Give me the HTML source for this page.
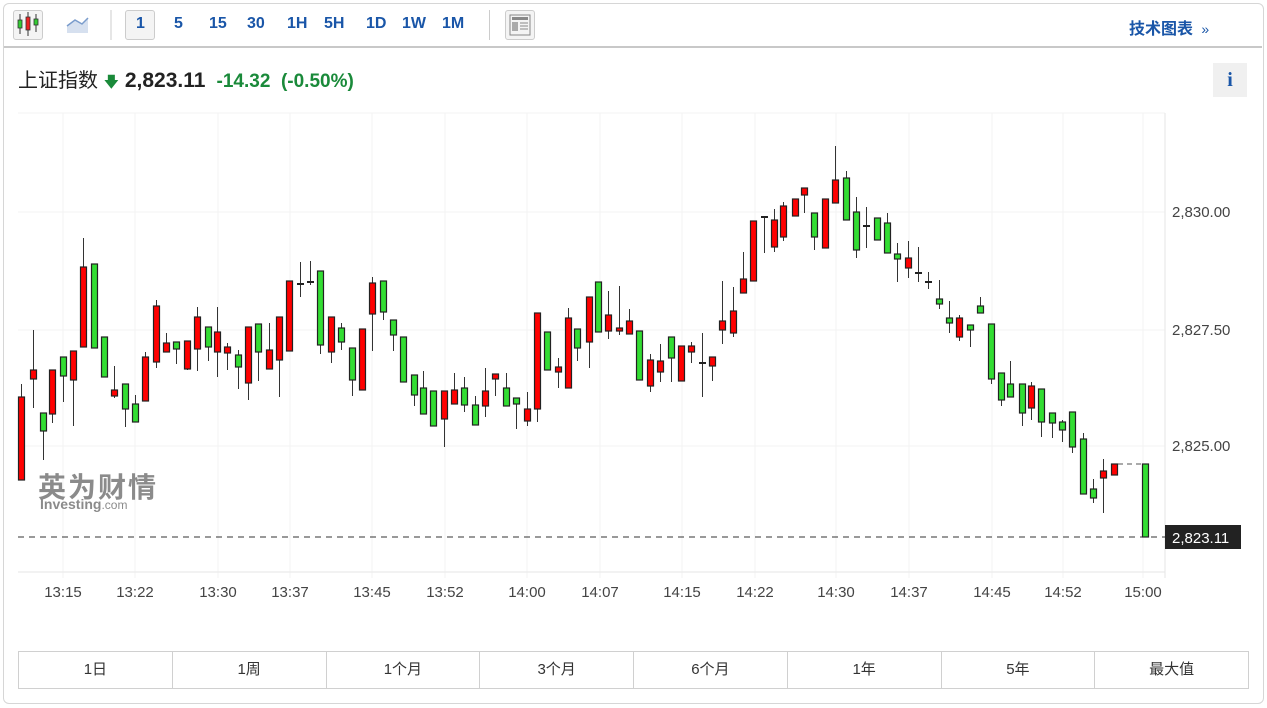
<!DOCTYPE html>
<html><head><meta charset="utf-8"><style>
body{margin:0;width:1267px;height:708px;background:#fff;font-family:"Liberation Sans","Noto Sans CJK SC",sans-serif;overflow:hidden}
.box{position:absolute;left:3px;top:3px;width:1259px;height:699px;border:1px solid #d6d6d6;border-radius:6px}
.tb{position:absolute;left:4px;top:4px;width:1258px;height:42px;border-bottom:2px solid #c8c8c8}
.t{position:absolute;top:15px;font-size:16px;font-weight:bold;color:#1a56a8}
.tabs{position:absolute;left:18px;top:651px;width:1229px;height:36px;border:1px solid #d0d0d0;display:flex}
.tabs div{flex:1;border-right:1px solid #d0d0d0;text-align:center;line-height:36px;font-size:15px;color:#333}
.tabs div:last-child{border-right:none}
</style></head><body>
<div class="box"></div>
<div class="tb"></div>
<div style="position:absolute;left:13px;top:10px;width:28px;height:28px;border:1px solid #ccc;border-radius:3px;background:#f4f4f4"></div>
<svg style="position:absolute;left:0;top:0" width="200" height="46">
<line x1="20" y1="14" x2="20" y2="34" stroke="#333"/><rect x="18" y="20" width="4" height="8" fill="#3c3" stroke="#333" stroke-width="0.8"/>
<line x1="28" y1="12" x2="28" y2="36" stroke="#333"/><rect x="26" y="17" width="4" height="13" fill="#e22" stroke="#333" stroke-width="0.8"/>
<line x1="36" y1="14" x2="36" y2="32" stroke="#333"/><rect x="34" y="19" width="4" height="6" fill="#3c3" stroke="#333" stroke-width="0.8"/>
<path d="M67 33 L67 26 L75 20 L82 24 L88 18 L88 33Z" fill="#d6e0ef"/><path d="M67 26 L75 20 L82 24 L88 18" fill="none" stroke="#7a9ccc" stroke-width="1.5"/>
<line x1="111" y1="10" x2="111" y2="40" stroke="#ccc"/>
</svg>
<div style="position:absolute;left:125px;top:10px;width:28px;height:28px;border:1px solid #ccc;border-radius:3px;background:#f4f4f4"></div>
<div class="t" style="left:136px">1</div><div class="t" style="left:174px">5</div><div class="t" style="left:209px">15</div><div class="t" style="left:247px">30</div><div class="t" style="left:287px">1H</div><div class="t" style="left:324px">5H</div><div class="t" style="left:366px">1D</div><div class="t" style="left:402px">1W</div><div class="t" style="left:442px">1M</div>
<div style="position:absolute;left:489px;top:10px;width:1px;height:30px;background:#ccc"></div>
<div style="position:absolute;left:505px;top:10px;width:28px;height:28px;border:1px solid #ccc;border-radius:3px;background:#f4f4f4"></div>
<svg style="position:absolute;left:509px;top:14px" width="22" height="22"><rect x="1" y="1" width="20" height="20" fill="none" stroke="#888"/><rect x="3" y="3" width="16" height="3" fill="#888"/><rect x="3" y="8" width="6" height="9" fill="#aaa"/><path d="M11 9h8M11 12h8M11 15h8" stroke="#888"/></svg>
<div style="position:absolute;left:1129px;top:15px;font-size:16px;font-weight:bold;color:#1a56a8">技术图表 <span style="font-weight:normal;font-size:14px">&nbsp;»</span></div>
<div style="position:absolute;left:18px;top:64px;font-size:20px;color:#222;white-space:nowrap">上证指数 <span style="color:#1a8a3a;font-size:15px">&#129095;</span><b style="color:#222;font-size:21px"> 2,823.11</b>&nbsp; <b style="color:#1a8a3a;font-size:19px">-14.32&nbsp; (-0.50%)</b></div>
<div style="position:absolute;left:1213px;top:63px;width:34px;height:34px;background:#f0f0f0;color:#1a56a8;font-weight:bold;font-size:20px;text-align:center;line-height:34px;font-family:'Liberation Serif',serif">i</div>
<svg id="ch" style="position:absolute;left:0;top:0" width="1267" height="708"></svg>
<div style="position:absolute;left:38px;top:466px;font-size:28px;font-weight:bold;color:#777;opacity:.85;letter-spacing:2px">英为财情</div>
<div style="position:absolute;left:40px;top:496px;font-size:14px;font-weight:bold;color:#777;opacity:.85">Investing<span style="font-weight:normal;font-size:12px">.com</span></div>
<div class="tabs"><div>1日</div><div>1周</div><div>1个月</div><div>3个月</div><div>6个月</div><div>1年</div><div>5年</div><div>最大值</div></div>
<script>
var s='';
var vx=[63,135,218,290,372,445,527,600,682,755,836,909,992,1063,1143],lb=['13:15','13:22','13:30','13:37','13:45','13:52','14:00','14:07','14:15','14:22','14:30','14:37','14:45','14:52','15:00'];
vx.forEach(function(x,i){s+='<line x1="'+x+'" y1="113" x2="'+x+'" y2="578" stroke="#f3f3f3"/>';s+='<text x="'+x+'" y="597" font-size="15" fill="#444" text-anchor="middle" font-family="Liberation Sans">'+lb[i]+'</text>';});
[113,212,330,446].forEach(function(y){s+='<line x1="18" y1="'+y+'" x2="1165" y2="'+y+'" stroke="#f3f3f3"/>';});
s+='<line x1="18" y1="572" x2="1165" y2="572" stroke="#e6e6e6"/><line x1="1165" y1="113" x2="1165" y2="578" stroke="#e6e6e6"/>';
[['2,830.00',212],['2,827.50',330],['2,825.00',446]].forEach(function(a){s+='<text x="1172" y="'+(a[1]+5)+'" font-size="15" fill="#444" font-family="Liberation Sans">'+a[0]+'</text>';});
s+='<line x1="18" y1="537" x2="1165" y2="537" stroke="#333" stroke-dasharray="6,5"/>';
s+='<line x1="1118" y1="464" x2="1142" y2="464" stroke="#555" stroke-dasharray="5,4"/>';
s+='<rect x="1165" y="525" width="76" height="24" fill="#222"/><text x="1172" y="543" font-size="15" fill="#fff" font-family="Liberation Sans">2,823.11</text>';
var d=[[21,384,397,480,480,'r'],[33,330,370,379,408,'r'],[43,413,413,431,460,'g'],[52,370,370,414,423,'r'],[63,357,357,376,402,'g'],[73,351,351,380,426,'r'],[83,238,267,347,347,'r'],[94,264,264,348,348,'g'],[104,337,337,377,377,'g'],[114,366,390,396,398,'r'],[125,384,384,409,427,'g'],[135,395,404,422,422,'g'],[145,352,357,401,401,'r'],[156,300,306,362,368,'r'],[166,333,343,352,352,'r'],[176,342,342,349,364,'g'],[187,341,341,369,370,'r'],[197,307,317,349,371,'r'],[208,327,327,347,361,'g'],[217,307,332,352,377,'r'],[227,343,347,353,370,'r'],[238,350,355,367,389,'g'],[248,327,327,383,400,'r'],[258,324,324,352,381,'g'],[269,323,350,369,369,'r'],[279,317,317,360,397,'r'],[289,281,281,351,351,'r'],[300,262,283,285,297,'d'],[310,261,281,283,285,'d'],[320,271,271,345,354,'g'],[331,317,317,352,363,'r'],[341,323,328,342,350,'g'],[352,348,348,380,396,'g'],[362,329,329,390,390,'r'],[372,277,283,314,351,'r'],[383,281,281,312,320,'g'],[393,320,320,335,351,'g'],[403,337,337,382,382,'g'],[414,375,375,395,406,'g'],[423,371,388,414,414,'g'],[433,391,391,426,426,'g'],[444,391,391,419,447,'r'],[454,373,390,404,404,'r'],[464,377,388,405,412,'g'],[475,396,405,425,425,'g'],[485,368,391,406,417,'r'],[495,374,374,379,396,'r'],[506,373,388,406,406,'g'],[516,398,398,404,429,'g'],[527,392,409,421,426,'r'],[537,313,313,409,422,'r'],[547,332,332,370,370,'g'],[558,358,367,372,388,'r'],[568,308,318,388,388,'r'],[577,329,329,348,361,'g'],[589,297,297,342,368,'r'],[598,282,282,332,332,'g'],[608,291,315,331,339,'r'],[619,286,328,331,335,'r'],[629,309,321,334,334,'r'],[639,331,331,380,380,'g'],[650,354,360,386,392,'r'],[660,344,361,372,382,'r'],[671,337,337,358,382,'g'],[681,346,346,381,381,'r'],[691,342,346,352,363,'r'],[702,333,362,364,397,'d'],[712,357,357,366,381,'r'],[722,281,321,330,344,'r'],[733,287,311,333,337,'r'],[743,252,279,293,293,'r'],[753,221,221,281,281,'r'],[764,216,216,218,253,'d'],[774,209,220,247,252,'r'],[783,202,206,237,241,'r'],[795,199,199,216,216,'r'],[804,188,188,195,213,'r'],[814,213,213,237,250,'g'],[825,199,199,248,248,'r'],[835,146,180,203,203,'r'],[846,171,178,220,220,'g'],[856,197,212,250,258,'g'],[866,207,225,227,248,'d'],[877,218,218,240,240,'g'],[887,213,223,253,253,'g'],[897,243,254,259,282,'g'],[908,241,258,268,278,'r'],[918,247,272,274,282,'d'],[928,272,281,283,289,'d'],[939,280,299,304,309,'g'],[949,301,318,323,333,'g'],[959,315,318,337,341,'r'],[970,325,325,330,347,'g'],[980,297,306,313,313,'g'],[991,324,324,379,384,'g'],[1001,373,373,400,406,'g'],[1010,361,384,397,397,'g'],[1022,384,384,413,426,'g'],[1031,382,386,408,420,'r'],[1041,389,389,422,437,'g'],[1052,413,413,423,438,'g'],[1062,420,422,430,442,'g'],[1072,412,412,447,453,'g'],[1083,433,439,494,494,'g'],[1093,479,489,498,503,'g'],[1103,459,471,478,513,'r'],[1114,464,464,475,475,'r'],[1145,464,464,537,537,'g']];
d.forEach(function(c){var x=c[0];s+='<line x1="'+(x+.5)+'" y1="'+c[1]+'" x2="'+(x+.5)+'" y2="'+c[4]+'" stroke="#333"/>';
if(c[5]=='d'){s+='<rect x="'+(x-3)+'" y="'+(c[2])+'" width="7" height="2" fill="#222"/>';}
else s+='<rect x="'+(x-2.5)+'" y="'+c[2]+'" width="6" height="'+Math.max(c[3]-c[2],3)+'" fill="'+(c[5]=='r'?'#ff0000':'#33dd33')+'" stroke="#222" stroke-width="1.2"/>';});
document.getElementById('ch').innerHTML=s;
</script>
</body></html>
